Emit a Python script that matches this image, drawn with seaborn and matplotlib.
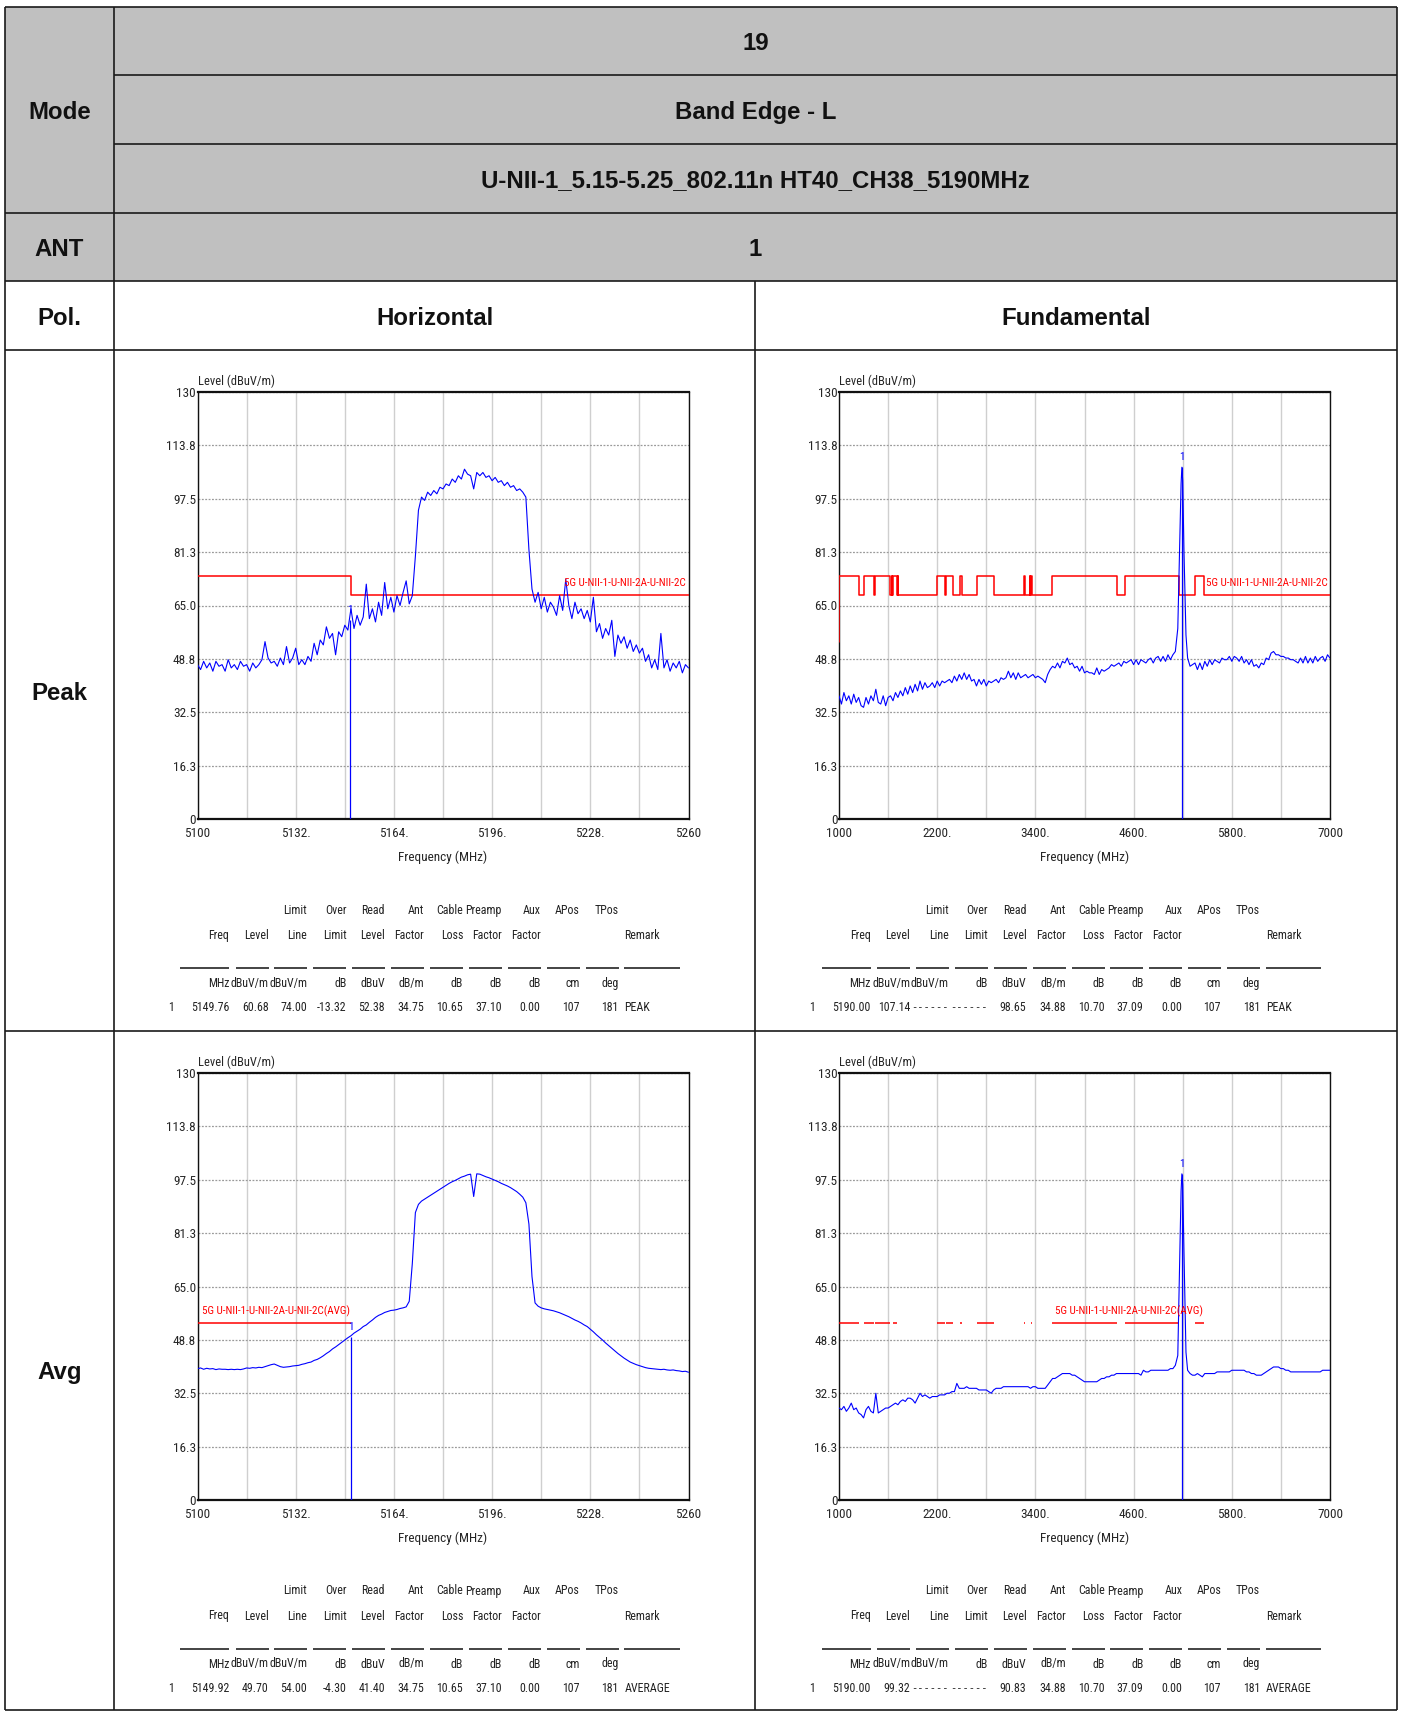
import numpy as np
import matplotlib
matplotlib.use('Agg')
import matplotlib.pyplot as plt
import seaborn as sns
from matplotlib import font_manager as fm
from matplotlib.patches import Rectangle

# ---------------- data ----------------
mode_rows = ['19', 'Band Edge - L', 'U-NII-1_5.15-5.25_802.11n HT40_CH38_5190MHz']
ant_value = '1'
pol_cols = ['Horizontal', 'Fundamental']
row_names = ['Peak', 'Avg']

yticks = [0, 16.25, 32.5, 48.75, 65.0, 81.25, 97.5, 113.75, 130]
ytick_labels = ['0', '16.3', '32.5', '48.8', '65.0', '81.3', '97.5', '113.8', '130']
edge_ticks = [5100, 5132, 5164, 5196, 5228, 5260]
edge_tick_labels = ['5100', '5132.', '5164.', '5196.', '5228.', '5260']
fund_ticks = [1000, 2200, 3400, 4600, 5800, 7000]
fund_tick_labels = ['1000', '2200.', '3400.', '4600.', '5800.', '7000']

# band edge sweep, 1 MHz points 5100..5260
edge_freq = np.arange(5100, 5261, 1)
edge_peak = [
    47, 45.5, 48, 46, 47.5, 45, 48, 46.5, 47, 45,
    48.5, 46, 47, 45.5, 48, 46.5, 47, 45, 47.5, 46,
    47, 48.5, 54, 49, 47.5, 48, 46.5, 49, 47, 52.5,
    47.5, 49, 52, 47, 48.5, 47, 49.5, 48, 53.5, 50,
    54.5, 53, 58.5, 55, 56.5, 50, 57, 55.5, 59, 57.5,
    64, 58, 62, 59, 61.5, 71.5, 61, 64, 60, 66,
    62, 72, 64, 67.5, 63, 68, 65, 69, 72.5, 65.5,
    68, 80, 94, 98, 97, 99.5, 98.5, 100, 99, 101,
    100.5, 102, 101.5, 103.5, 102.5, 104.5, 103.5, 106.5, 105, 104.5,
    100.5, 105.5, 104.5, 105.5, 104, 104.5, 103, 104, 102.5, 103,
    101.5, 102.5, 101, 101.5, 100, 100.5, 99.5, 98, 82, 70,
    66, 69, 64, 67.5, 63, 66, 64.5, 62, 68, 63.5,
    73, 65, 61, 66, 62.5, 64, 61, 63.5, 60, 67.5,
    57, 59.5, 55, 58, 56, 60.5, 49.5, 56, 53.5, 55.5,
    52, 54.5, 51, 53, 50.5, 52, 48, 50, 46, 48.5,
    45.5, 56.5, 46, 48.5, 45, 47.5, 46, 48, 44.5, 47,
    46,
]
edge_avg = [
    40.0, 40.2, 39.8, 40.1, 39.9, 40.0, 39.7, 39.9, 39.8, 39.8,
    39.7, 39.8, 39.7, 39.8, 39.7, 39.9, 40.2, 40.1, 40.3, 40.2,
    40.4, 40.3, 40.6, 40.9, 41.2, 41.4, 41.0, 40.6, 40.4, 40.5,
    40.6, 40.8, 40.9, 41.0, 41.3, 41.5, 41.8, 42.0, 42.5, 42.8,
    43.3, 43.9, 44.6, 45.2, 46.0, 46.6, 47.3, 48.0, 48.7, 49.4,
    50.0, 50.8, 51.4, 52.0, 52.8, 53.3, 54.1, 54.8, 55.6, 56.2,
    56.6, 57.1, 57.4, 57.7, 57.8, 58.0, 58.3, 58.5, 58.8, 60.5,
    72.0, 87.5, 90.0, 91.0, 91.6, 92.2, 92.8, 93.4, 94.0, 94.6,
    95.2, 95.8, 96.4, 96.9, 97.3, 97.8, 98.3, 98.6, 99.0, 99.2,
    92.4, 99.3, 99.2, 98.8, 98.4, 98.1, 97.7, 97.3, 96.9, 96.4,
    96.0, 95.6, 95.1, 94.5, 93.9, 93.1, 92.2, 90.5, 84.0, 68.0,
    60.0, 59.0, 58.5, 58.2, 58.0, 57.8, 57.6, 57.3, 57.0, 56.6,
    56.2, 55.8, 55.3, 54.8, 54.4, 53.9, 53.3, 52.8, 52.0, 51.2,
    50.3, 49.5, 48.7, 47.8, 47.0, 46.2, 45.4, 44.6, 43.9, 43.2,
    42.6, 42.0, 41.6, 41.2, 40.9, 40.6, 40.3, 40.1, 40.0, 39.9,
    39.8, 39.7, 39.8, 39.6, 39.5, 39.6, 39.4, 39.3, 39.1, 39.2,
    38.9,
]

# fundamental sweep: 30 MHz points, finer around the carrier
fund_freq = np.concatenate([np.arange(1000, 5111, 30),
                            [5140, 5165, 5180, 5190, 5200, 5215, 5240],
                            np.arange(5260, 7001, 30)])
fund_peak = [
    37.5, 35, 38.5, 36, 37.5, 35, 38, 35.5, 37, 34.5,
    34, 37, 35, 37.5, 36, 39.5, 35.5, 35, 37.5, 34.5,
    37, 37.5, 36, 38.5, 37, 39, 37.5, 40, 38, 40.5,
    38.5, 41, 39, 42, 39.5, 41.5, 40, 40.5, 41.5, 40,
    42, 40.5, 42, 41.5, 42, 42.5, 41.5, 43.5, 42, 44,
    42.5, 44.5, 42.5, 44, 42, 42.5, 40.5, 42.5, 41, 42.5,
    40.5, 42, 41.5, 42, 42.5, 41.5, 43, 42.5, 43, 45,
    43, 44.5, 42.5, 44.5, 43, 43.5, 44, 43, 43.5, 44,
    43, 43.5, 43, 42.5, 41.5, 44, 45.5, 46.5, 46, 47.5,
    46, 48, 47.5, 49, 47, 47.5, 46, 46.5, 45, 46.5,
    44.5, 45, 44.5, 44.5, 44, 46, 44, 45.5, 45, 45.5,
    46, 47, 46.5, 47, 47.5, 46.5, 48, 47.5, 48, 48.5,
    47, 48.5, 47, 48.5, 48, 47.5, 48.5, 49, 47.5, 49,
    49.5, 48, 49.5, 48, 50, 48.5, 50, 51,
    58, 85, 102, 107.1, 103, 82, 56,
    49, 46.5, 47, 47.5, 45.5, 47.5, 45.5, 48, 46.5, 48.5,
    47, 48.5, 48, 47.5, 49, 48.5, 48.5, 49.5, 48, 49.5,
    49, 48, 49.5, 47.5, 48.5, 47, 48.5, 46.5, 47, 46,
    47.5, 47, 49, 48.5, 50.5, 51, 50, 50, 49.5, 49.5,
    49, 49, 48.5, 48.5, 48, 47.5, 49, 47.5, 49.5, 47.5,
    49, 47.5, 49.5, 48, 49, 49.5, 48, 50, 49,
]
fund_avg = [
    28, 27.5, 28.5, 27, 28, 29.5, 27.5, 28, 26.5, 26,
    25, 27.5, 28.5, 27, 26.5, 32.5, 26.5, 27, 27.5, 28,
    28, 28.5, 29, 29.5, 29, 30, 30.5, 30, 31, 31,
    30.5, 29.5, 31, 32.5, 31.5, 32, 31.5, 31, 31.5, 31.5,
    31.5, 32, 32, 32, 32.5, 32.5, 33, 33, 35.5, 34,
    34, 34, 34.5, 34, 34, 34, 34, 33.5, 33.5, 33.5,
    33.5, 33, 32.5, 33.5, 34, 34, 34, 34.5, 34.5, 34.5,
    34.5, 34.5, 34.5, 34.5, 34.5, 34.5, 34.5, 34.5, 34, 34.5,
    34.5, 34, 34, 34, 34, 35, 36, 37, 37, 37.5,
    38, 38.5, 38.5, 38.5, 38.5, 38, 38, 37.5, 37, 36.5,
    36, 36, 36, 36, 36, 36, 36.5, 37, 37, 37.5,
    37.5, 38, 38, 38.5, 38.5, 38.5, 38.5, 38.5, 38.5, 38.5,
    38.5, 38.5, 38.5, 38, 39.5, 39, 39, 39.5, 39.5, 39.5,
    39.5, 39.5, 39.5, 39.5, 39.5, 40, 40, 41,
    44, 75, 94, 99.3, 96, 76, 45,
    39.5, 38.5, 38, 38, 38.5, 38, 37.5, 38.5, 38.5, 38.5,
    38.5, 38.5, 39, 39, 39, 39, 39, 39, 39.5, 39.5,
    39.5, 39.5, 39.5, 39.5, 39, 39, 38.5, 38.5, 38, 38,
    38, 38.5, 39, 39.5, 40, 40.5, 40.5, 40.5, 40, 40,
    39.5, 39.5, 39, 39, 39, 39, 39, 39, 39, 39,
    39, 39, 39, 39, 39, 39.5, 39.5, 39.5, 39.5,
]

# restricted bands (MHz): limit 74 peak / 54 avg inside, 68.2 peak outside
rb_start = [960, 1300, 1435, 1645.5, 1660, 1718.8, 2200, 2310, 2483.5, 2690,
            3260, 3332, 3345.8, 3600, 4500, 5350]
rb_end = [1240, 1427, 1626.5, 1646.5, 1710, 1722.2, 2300, 2390, 2500, 2900,
          3267, 3339, 3358, 4400, 5150, 5460]
lim_hi, lim_lo, lim_avg = 74.0, 68.2, 54.0
lim_below_1g = 54.0
lim_name = '5G U-NII-1-U-NII-2A-U-NII-2C'

mk_freq = [5149.76, 5190.00, 5149.92, 5190.00]
mk_level = [60.68, 107.14, 49.70, 99.32]

hdr1 = ['', '', 'Limit', 'Over', 'Read', 'Ant', 'Cable', 'Preamp', 'Aux', 'APos', 'TPos']
hdr2 = ['Freq', 'Level', 'Line', 'Limit', 'Level', 'Factor', 'Loss', 'Factor', 'Factor', '', '']
units = ['MHz', 'dBuV/m', 'dBuV/m', 'dB', 'dBuV', 'dB/m', 'dB', 'dB', 'dB', 'cm', 'deg']
tbl_rows = [
    ['1', '5149.76', '60.68', '74.00', '-13.32', '52.38', '34.75', '10.65', '37.10', '0.00', '107', '181', 'PEAK'],
    ['1', '5190.00', '107.14', '------', '------', '98.65', '34.88', '10.70', '37.09', '0.00', '107', '181', 'PEAK'],
    ['1', '5149.92', '49.70', '54.00', '-4.30', '41.40', '34.75', '10.65', '37.10', '0.00', '107', '181', 'AVERAGE'],
    ['1', '5190.00', '99.32', '------', '------', '90.83', '34.88', '10.70', '37.09', '0.00', '107', '181', 'AVERAGE'],
]

# ---------------- style ----------------
sns.set_style('white')
have = {f.name for f in fm.fontManager.ttflist}
NARROW = next((n for n in ['Liberation Sans Narrow', 'Arial Narrow', 'Roboto Condensed',
                           'DejaVu Sans Condensed', 'Open Sans Condensed'] if n in have), 'Liberation Sans')
plt.rcParams['font.family'] = [NARROW, 'DejaVu Sans']
k_f = 1.0 if NARROW != 'Liberation Sans' else 0.85
fs = 9.5 * k_f      # tick / axis labels
fs_tbl = 8.6 * k_f  # measurement table
fs_lim = 8.0 * k_f  # limit line names
BOLD = ['Liberation Sans', 'DejaVu Sans']
BLUE, RED = '#0000ff', '#ff0000'

W, H = 1403, 1711
fig = plt.figure(figsize=(W / 100, H / 100), dpi=100)
bg = fig.add_axes([0, 0, 1, 1], zorder=0)
bg.set_xlim(0, W)
bg.set_ylim(H, 0)
bg.axis('off')

# ---------------- header table ----------------
L, C1, C2, R = 5, 114, 755, 1397
rows_y = [7, 75, 144, 213, 281, 350, 1031, 1710]
bg.add_patch(Rectangle((L, rows_y[0]), R - L, rows_y[4] - rows_y[0], color='#c0c0c0', lw=0))
lc = '#1a1a1a'
bg.hlines([rows_y[0], rows_y[3], rows_y[4], rows_y[5], rows_y[6], rows_y[7]], L, R, color=lc, lw=1.2)
bg.hlines([rows_y[1], rows_y[2]], C1, R, color=lc, lw=1.2)
bg.vlines([L, C1, R], rows_y[0], rows_y[7], color=lc, lw=1.2)
bg.vlines([C2], rows_y[4], rows_y[7], color=lc, lw=1.2)

hk = dict(fontsize=17.3, fontweight='bold', family=BOLD, ha='center', va='center', color='#111111')
dy = 2.5  # text sits a touch below the cell centre
for i, t in enumerate(mode_rows):
    bg.text((C1 + R) / 2, (rows_y[i] + rows_y[i + 1]) / 2 + dy, t, **hk)
bg.text((L + C1) / 2, (rows_y[0] + rows_y[3]) / 2 + dy, 'Mode', **hk)
bg.text((L + C1) / 2, (rows_y[3] + rows_y[4]) / 2 + dy, 'ANT', **hk)
bg.text((C1 + R) / 2, (rows_y[3] + rows_y[4]) / 2 + dy, ant_value, **hk)
bg.text((L + C1) / 2, (rows_y[4] + rows_y[5]) / 2 + dy, 'Pol.', **hk)
bg.text((C1 + C2) / 2, (rows_y[4] + rows_y[5]) / 2 + dy, pol_cols[0], **hk)
bg.text((C2 + R) / 2, (rows_y[4] + rows_y[5]) / 2 + dy, pol_cols[1], **hk)
bg.text((L + C1) / 2, (rows_y[5] + rows_y[6]) / 2 + dy, row_names[0], **hk)
bg.text((L + C1) / 2, (rows_y[6] + rows_y[7]) / 2 + dy, row_names[1], **hk)

# ---------------- panels ----------------
AX_X = [197.5, 839]
AX_Y = [392, 1073]
AW, AH = 491, 427

col_right = [31.8, 71.1, 109.6, 148.9, 187.5, 226.8, 265.7, 304.3, 343.2, 382.1, 421.1]
seg_left = [-17.1, 38.2, 76.8, 115.7, 154.6, 193.5, 232.9, 271.1, 310.0, 349.3, 388.2, 426.8]
seg_right = col_right + [482.1]


def peak_limit(f0, f1, start=None):
    edges = sorted(set([f0, f1] + [e for e in rb_start + rb_end if f0 < e < f1]))
    xs, ys = [], []
    if start is not None:
        xs.append(f0)
        ys.append(start)
    for e in edges:
        inside = any(s <= e < t for s, t in zip(rb_start, rb_end))
        xs.append(e)
        ys.append(lim_hi if inside else lim_lo)
    ys[-1] = ys[-2]
    return xs, ys


def panel(col, row, freq, level, f0, f1, ticks, tlabels, step, k):
    x0, y0 = AX_X[col], AX_Y[row]
    ax = fig.add_axes([x0 / W, 1 - (y0 + AH) / H, AW / W, AH / H], zorder=2)
    ax.set_facecolor('white')
    # limits
    if row == 0:
        lx, ly = peak_limit(f0, f1, lim_below_1g if col == 1 else None)
        sns.lineplot(x=lx, y=ly, ax=ax, color=RED, lw=1.1, drawstyle='steps-post',
                     estimator=None, sort=False, zorder=3)
    else:
        for s, t in zip(rb_start, rb_end):
            if t > f0 and s < f1:
                ax.hlines(lim_avg, max(s, f0), min(t, f1), color=RED, lw=1.1, zorder=3)
    sns.lineplot(x=freq, y=level, ax=ax, color=BLUE, lw=0.8, estimator=None, sort=False, zorder=4)
    ax.vlines(mk_freq[k], 0, mk_level[k], color=BLUE, lw=0.9, zorder=5)
    ax.text(mk_freq[k], mk_level[k] + 1.5, '1', color=BLUE, fontsize=8, ha='center', va='bottom', zorder=5)

    ax.set_xlim(f0, f1)
    ax.set_ylim(0, 130)
    ax.set_xlabel('')
    ax.set_ylabel('')
    ax.set_xticks(ticks)
    ax.set_xticklabels(tlabels)
    ax.set_xticks(np.arange(f0, f1 + 1, step), minor=True)
    ax.set_yticks(yticks)
    ax.set_yticklabels(ytick_labels)
    ax.tick_params(which='both', length=0)
    ax.tick_params(axis='x', pad=6, labelsize=fs)
    ax.tick_params(axis='y', pad=1, labelsize=fs)
    ax.xaxis.grid(True, which='both', color='#cfcfcf', lw=1.0, ls='-')
    ax.yaxis.grid(True, color='#9a9a9a', lw=0.9, ls=(0, (1.5, 1.2)))
    ax.set_axisbelow(True)
    for name, sp in ax.spines.items():
        sp.set_visible(True)
        sp.set_color('#111111')
        sp.set_linewidth(1.6 if name in ('top', 'bottom') else 1.0)

    ax.annotate('Level (dBuV/m)', (0, 1), xycoords='axes fraction', xytext=(0, 3),
                textcoords='offset points', ha='left', va='bottom', fontsize=fs - 0.5)
    ax.annotate('Frequency (MHz)', (0.5, 0), xycoords='axes fraction', xytext=(0, -27.6),
                textcoords='offset points', ha='center', va='center', fontsize=fs)

    # limit label
    if row == 0:
        ax.text(0.995, 71.9, lim_name, color=RED, fontsize=fs_lim, ha='right', va='center',
                transform=ax.get_yaxis_transform(), zorder=6)
    else:
        lx = 0.009 if col == 0 else 0.44
        ax.text(lx, 57.4, lim_name + '(AVG)', color=RED, fontsize=fs_lim, ha='left', va='center',
                transform=ax.get_yaxis_transform(), zorder=6)

    # measurement table under the chart
    yb = y0 + AH
    vals = tbl_rows[k]
    tk = dict(fontsize=fs_tbl, va='center', color='#222222')
    dash = dict(fontsize=7.5, va='center', color='#222222', family='DejaVu Sans Mono')
    for i, r in enumerate(col_right):
        bg.text(x0 + r, yb + 91, hdr1[i], ha='right', **tk)
        bg.text(x0 + r, yb + 116, hdr2[i], ha='right', **tk)
        bg.text(x0 + r, yb + 164, units[i], ha='right', **tk)
        v = vals[i + 1]
        bg.text(x0 + r, yb + 188, v, ha='right', **(dash if set(v) == {'-'} else tk))
    bg.text(x0 + seg_left[-1], yb + 116, 'Remark', ha='left', **tk)
    bg.text(x0 + seg_left[-1], yb + 188, vals[-1], ha='left', **tk)
    bg.text(x0 - 24, yb + 188, vals[0], ha='right', **tk)
    ul_y = [yb + 149] * len(seg_left)
    bg.hlines(ul_y, [x0 + s for s in seg_left], [x0 + e for e in seg_right], color='#111111', lw=1.1)
    return ax


panel(0, 0, edge_freq, edge_peak, 5100, 5260, edge_ticks, edge_tick_labels, 16, 0)
panel(1, 0, fund_freq, fund_peak, 1000, 7000, fund_ticks, fund_tick_labels, 600, 1)
panel(0, 1, edge_freq, edge_avg, 5100, 5260, edge_ticks, edge_tick_labels, 16, 2)
panel(1, 1, fund_freq, fund_avg, 1000, 7000, fund_ticks, fund_tick_labels, 600, 3)

fig.savefig('out.png', dpi=100, facecolor='white')
